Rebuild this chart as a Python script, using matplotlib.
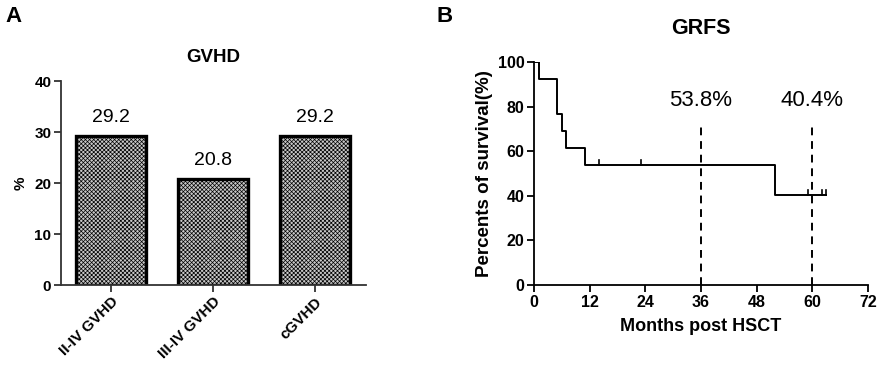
import numpy as np
import matplotlib.pyplot as plt

plt.rcParams['font.family'] = ['Liberation Sans', 'DejaVu Sans']
plt.rcParams['hatch.color'] = '#3a3a3a'
plt.rcParams['hatch.linewidth'] = 0.5

# panel A data
gvhd_labels = ['II-IV GVHD', 'III-IV GVHD', 'cGVHD']
gvhd_values = [29.2, 20.8, 29.2]

# panel B data (Kaplan-Meier steps)
km_times = [0, 1, 5, 6, 7, 11, 52, 63]
km_surv = [100, 92.3, 76.9, 69.2, 61.5, 53.8, 40.4, 40.4]
censor_times = [14, 23, 59, 62, 63]
mark_times = [36, 60]
mark_labels = ['53.8%', '40.4%']

fig = plt.figure(figsize=(8.79, 3.66), dpi=100)

# --- A ---
ax1 = fig.add_axes([0.0694, 0.2213, 0.347, 0.557])
x = np.arange(len(gvhd_values))
ax1.bar(x, gvhd_values, width=0.68, facecolor='#c8c8c8', edgecolor='black',
        linewidth=2.4, hatch='xxxxxxxx')
for xi, v in zip(x, gvhd_values):
    ax1.text(xi, v + 2.0, f'{v}', ha='center', va='bottom', fontsize=14)
ax1.set_xlim(-0.49, 2.5)
ax1.set_ylim(0, 40)
ax1.set_yticks([0, 10, 20, 30, 40])
ax1.set_xticks(x)
ax1.set_xticklabels(gvhd_labels, rotation=45, ha='right', rotation_mode='anchor',
                    fontsize=11, fontweight='bold')
for lab in ax1.get_yticklabels():
    lab.set_fontweight('bold')
    lab.set_fontsize(11)
ax1.set_ylabel('%', fontsize=11, fontweight='bold', labelpad=5)
ax1.set_title('GVHD', fontsize=13.5, fontweight='bold', pad=14)
for s in ['top', 'right']:
    ax1.spines[s].set_visible(False)
for s in ['left', 'bottom']:
    ax1.spines[s].set_linewidth(1.3)
    ax1.spines[s].set_color('#333333')
ax1.tick_params(width=1.3, length=5, color='#333333', pad=2)
fig.text(0.006, 0.955, 'A', fontsize=16, fontweight='bold', va='center')

# --- B ---
ax2 = fig.add_axes([0.6075, 0.2213, 0.380, 0.609])
ax2.step(km_times, km_surv, where='post', color='black', linewidth=1.4)
step_t = np.array(km_times)
step_s = np.array(km_surv)
for ct in censor_times:
    sv = step_s[np.searchsorted(step_t, ct, side='right') - 1]
    ax2.plot([ct, ct], [sv, sv + 2.3], color='black', linewidth=1.2)
for mt, ml in zip(mark_times, mark_labels):
    ax2.plot([mt, mt], [0, 71], color='black', linestyle='--', linewidth=1.4,
             dashes=(4, 3))
    ax2.text(mt, 78, ml, ha='center', va='bottom', fontsize=16)
ax2.set_xlim(0, 72)
ax2.set_ylim(0, 100)
ax2.set_xticks(np.arange(0, 73, 12))
ax2.set_yticks(np.arange(0, 101, 20))
for lab in ax2.get_xticklabels() + ax2.get_yticklabels():
    lab.set_fontweight('bold')
    lab.set_fontsize(11.5)
ax2.set_xlabel('Months post HSCT', fontsize=13, fontweight='bold', labelpad=6)
ax2.set_ylabel('Percents of survival(%)', fontsize=13.5, fontweight='bold', labelpad=3)
ax2.set_title('GRFS', fontsize=15.5, fontweight='bold', pad=20)
for s in ['top', 'right']:
    ax2.spines[s].set_visible(False)
for s in ['left', 'bottom']:
    ax2.spines[s].set_linewidth(1.3)
ax2.tick_params(width=1.3, length=5, pad=2)
fig.text(0.497, 0.955, 'B', fontsize=16, fontweight='bold', va='center')

fig.savefig('out.png', dpi=100)
